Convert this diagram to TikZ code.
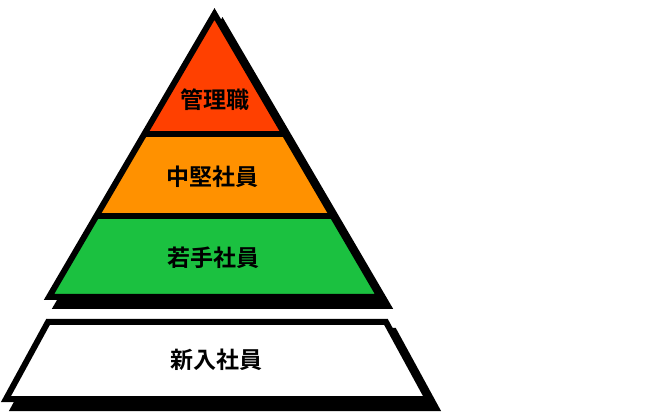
\documentclass[tikz,border=0pt]{standalone}
\usepackage{fontspec}
\newfontfamily\cjk{Noto Sans CJK JP Bold}
\definecolor{cRed}{RGB}{255,64,0}
\definecolor{cOrange}{RGB}{255,145,0}
\definecolor{cGreen}{RGB}{27,193,64}
\begin{document}
\begin{tikzpicture}[x=1pt,y=-1pt,
  outl/.style={draw=black,line width=6pt,line join=miter},
  shad/.style={fill=black,draw=black,line width=6pt,line join=miter},
  lbl/.style={font=\cjk\fontsize{23}{23}\selectfont,text=black}]
\useasboundingbox (0,0) rectangle (654,414);
% triangle corners
\coordinate (A) at (214.5,14);
\coordinate (L) at (49,297);
\coordinate (R) at (380,297);
% shadows
\draw[shad] ([shift={(8,9)}]A) -- ([shift={(8,9)}]R) -- ([shift={(8,9)}]L) -- cycle;
\draw[shad] (56,331) -- (394,331) -- (436,408) -- (14,408) -- cycle;
% bands
\begin{scope}
\clip (A) -- (R) -- (L) -- cycle;
\fill[cRed] (0,0) rectangle (654,134);
\fill[cOrange] (0,134) rectangle (654,216);
\fill[cGreen] (0,216) rectangle (654,300);
\draw[line width=6pt] (0,134) -- (654,134);
\draw[line width=6pt] (0,216) -- (654,216);
\end{scope}
\draw[outl] (A) -- (R) -- (L) -- cycle;
% bottom trapezoid
\draw[outl,fill=white] (48,322) -- (386,322) -- (428,399) -- (6,399) -- cycle;
% labels
\node[lbl] (t1) at (215,100) {管理職};
\node[lbl] (t2) at (212,177) {中堅社員};
\node[lbl] (t3) at (213,258) {若手社員};
\node[lbl] (t4) at (216,360) {新入社員};
\end{tikzpicture}
\end{document}
